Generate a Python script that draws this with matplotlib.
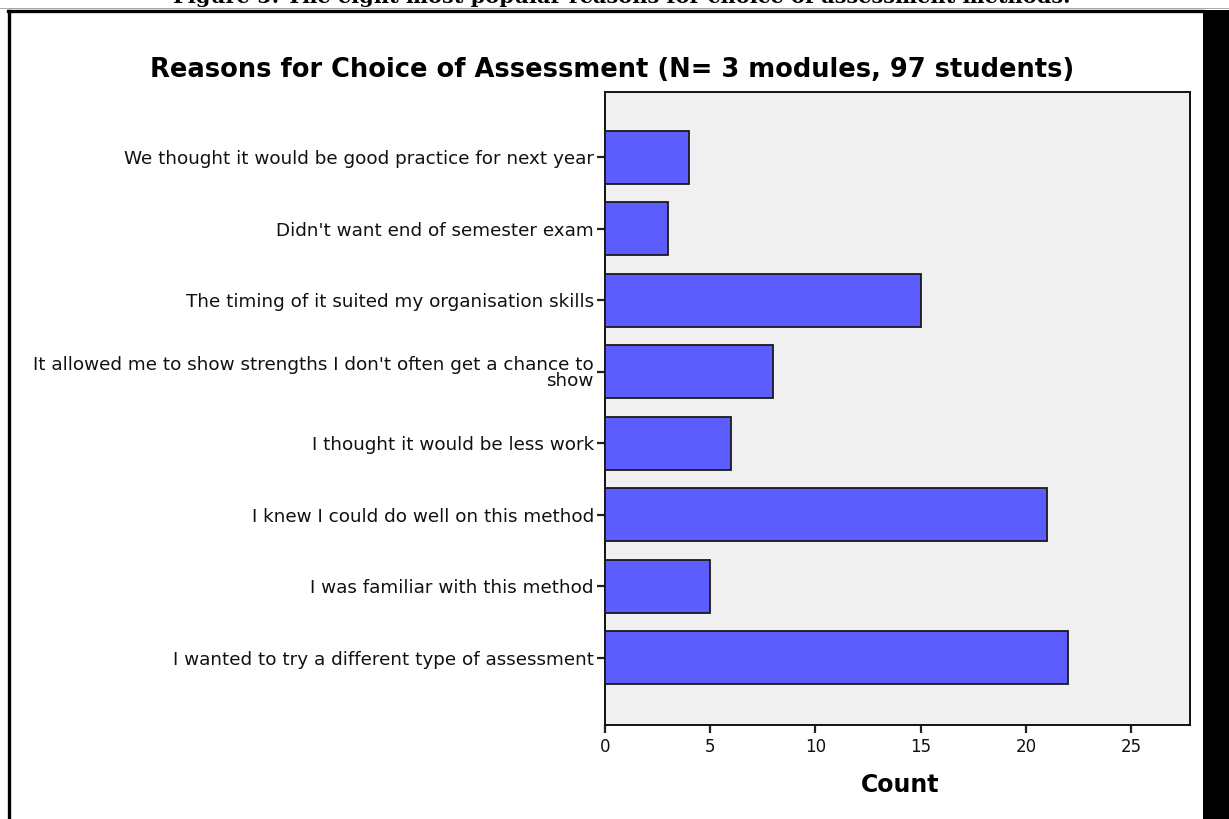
import matplotlib
matplotlib.use("Agg")
import matplotlib.pyplot as plt
from matplotlib.patches import Rectangle
from matplotlib.lines import Line2D

categories = [
    "We thought it would be good practice for next year",
    "Didn't want end of semester exam",
    "The timing of it suited my organisation skills",
    "It allowed me to show strengths I don't often get a chance to\nshow",
    "I thought it would be less work",
    "I knew I could do well on this method",
    "I was familiar with this method",
    "I wanted to try a different type of assessment",
]
counts = [4, 3, 15, 8, 6, 21, 5, 22]
xticks = [0, 5, 10, 15, 20, 25]

title = "Reasons for Choice of Assessment (N= 3 modules, 97 students)"
caption = "Figure 5: The eight most popular reasons for choice of assessment methods."

plt.rcParams['font.family'] = ['DejaVu Sans']

W, H = 1229, 819
fig = plt.figure(figsize=(W / 100, H / 100), dpi=100)
fig.patch.set_facecolor('white')

# page frame
fig.add_artist(Line2D([0, 1], [1 - 8 / H, 1 - 8 / H], transform=fig.transFigure, color='#999999', lw=0.6))
fig.add_artist(Line2D([8 / W, 1203 / W], [1 - 10.5 / H, 1 - 10.5 / H], transform=fig.transFigure, color='black', lw=2.4))
fig.add_artist(Line2D([9 / W, 9 / W], [0, 1 - 10.5 / H], transform=fig.transFigure, color='black', lw=2.4))
fig.add_artist(Rectangle((1203 / W, 0), (W - 1203) / W, 1 - 9.5 / H, transform=fig.transFigure,
                         facecolor='black', edgecolor='none'))

# caption (cut at top, as in the reference)
fig.text(622 / W, 1 - 3 / H, caption, ha='center', va='baseline', fontsize=15,
         fontweight='bold', family=['DejaVu Serif'])

left, right, top, bottom = 605, 1190, 92, 725
ax = fig.add_axes([left / W, 1 - bottom / H, (right - left) / W, (bottom - top) / H])
ax.set_facecolor('#f0f0f0')

ypos = list(range(len(categories)))
ax.barh(ypos, counts, height=0.74, color='#5d5dfd', edgecolor='#1a1a1a', linewidth=1.3, zorder=3)
ax.set_xlim(0, 27.8)
ax.set_ylim(7.94, -0.91)
ax.set_yticks(ypos)
ax.set_yticklabels(categories, fontsize=13.2, linespacing=0.9, color='#111111')
ax.set_xticks(xticks)
ax.set_xticklabels([str(t) for t in xticks], fontsize=12, color='#111111')
ax.tick_params(axis='y', direction='out', length=6, width=1.6, color='#222222', pad=2)
ax.tick_params(axis='x', direction='out', length=6, width=1.6, color='#222222', pad=3)
for s in ax.spines.values():
    s.set_color('#111111')
    s.set_linewidth(1.4)

fig.text(612 / W, 1 - 70 / H, title, ha='center', va='center', fontsize=18.5, fontweight='bold')
fig.text(900 / W, 1 - 785 / H, "Count", ha='center', va='center', fontsize=17, fontweight='bold')

fig.savefig('out.png', dpi=100, facecolor='white')
